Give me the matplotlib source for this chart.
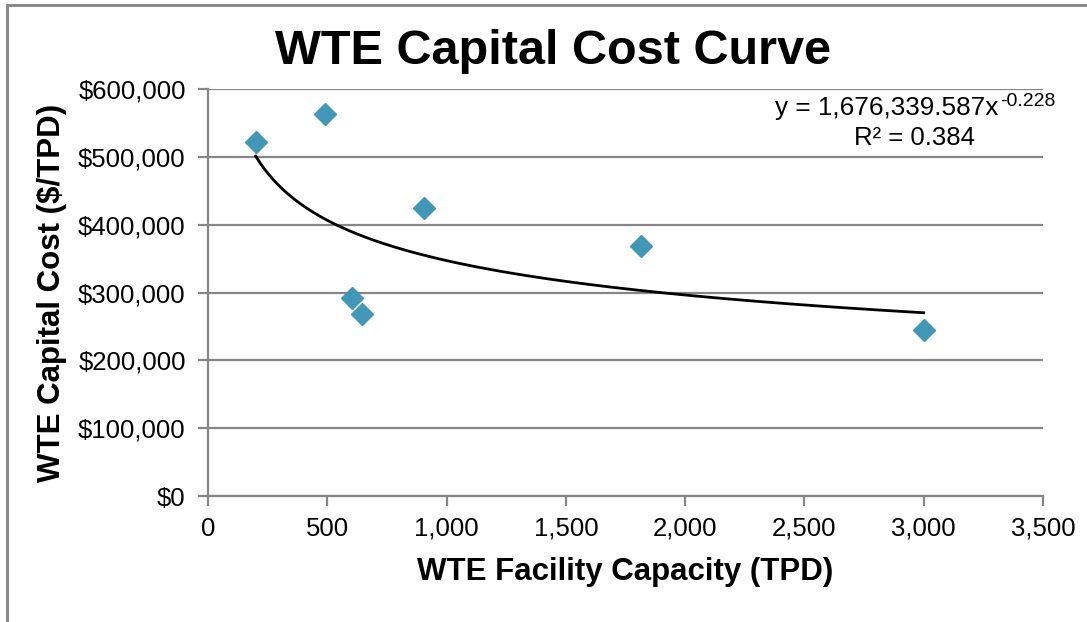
import numpy as np
import matplotlib
matplotlib.use("Agg")
import matplotlib.pyplot as plt
from matplotlib.patches import Rectangle
from matplotlib.ticker import FuncFormatter, MultipleLocator

plt.rcParams['font.family'] = ['Liberation Sans', 'DejaVu Sans']

# Facility capacity (TPD) and capital cost ($/TPD)
capacity = [200, 490, 605, 645, 905, 1815, 3000]
capital_cost = [522000, 563000, 292000, 268000, 425000, 369000, 245000]

# Power-law trendline coefficients
coef_a = 1676339.587
coef_b = -0.228
r_squared = 0.384

title = "WTE Capital Cost Curve"
x_label = "WTE Facility Capacity (TPD)"
y_label = "WTE Capital Cost ($/TPD)"

W, H = 1087, 622
fig = plt.figure(figsize=(W / 100, H / 100), dpi=100)
fig.patch.set_facecolor("white")

# outer chart frame
fig.add_artist(Rectangle((7 / W, -0.1), 1.2, 1 - 4.5 / H + 0.1,
                         transform=fig.transFigure, fill=False,
                         edgecolor="#8a8a8a", linewidth=2.2))

ax_h = 496 - 89
ax = fig.add_axes([208 / W, 1 - 496 / H, (1043 - 208) / W, ax_h / H])
ax.set_xlim(0, 3500)
ax.set_ylim(0, 600000)
ax.xaxis.set_major_locator(MultipleLocator(500))
ax.yaxis.set_major_locator(MultipleLocator(100000))
ax.xaxis.set_major_formatter(FuncFormatter(lambda v, p: f"{int(v):,}"))
ax.yaxis.set_major_formatter(FuncFormatter(lambda v, p: f"${int(v):,}"))

grid_c = "#868686"
ax.grid(axis="y", color=grid_c, linewidth=1.6)
ax.set_axisbelow(True)
for s in ("top", "right"):
    ax.spines[s].set_visible(False)
for s in ("left", "bottom"):
    ax.spines[s].set_color(grid_c)
    ax.spines[s].set_linewidth(1.6)
ax.tick_params(axis="both", direction="out", length=7, width=1.6,
               color=grid_c, labelsize=18.5, labelcolor="black")
ax.tick_params(axis="y", pad=9)
ax.tick_params(axis="x", pad=8)

# trendline
xs = np.linspace(min(capacity), max(capacity), 300)
ax.plot(xs, coef_a * xs ** coef_b, color="black", linewidth=2, zorder=3)

ax.plot(capacity, capital_cost, linestyle="none", marker="D", markersize=11.5,
        color="#4197b5", markeredgecolor="#4197b5", zorder=4, clip_on=False)

ax.set_xlabel(x_label, fontsize=22.5, fontweight="bold")
ax.xaxis.set_label_coords(0.5, (496 - 572) / ax_h)
ax.xaxis.label.set_va("center")
ax.set_ylabel(y_label, fontsize=22.5, fontweight="bold")
ax.yaxis.set_label_coords((52 - 208) / 835, 0.5)
ax.yaxis.label.set_va("center")

fig.text(553 / W, 1 - 52 / H, title, fontsize=35, fontweight="bold",
         ha="center", va="center")

fig.text(998 / W, 1 - 108 / H, "y = 1,676,339.587x",
         fontsize=18.8, ha="right", va="center")
fig.text(1000 / W, 1 - 102 / H, f"{coef_b}", fontsize=14,
         ha="left", va="center")
fig.text(914 / W, 1 - 138 / H, f"R² = {r_squared}",
         fontsize=18.5, ha="center", va="center")

fig.savefig("out.png", dpi=100, facecolor="white")
